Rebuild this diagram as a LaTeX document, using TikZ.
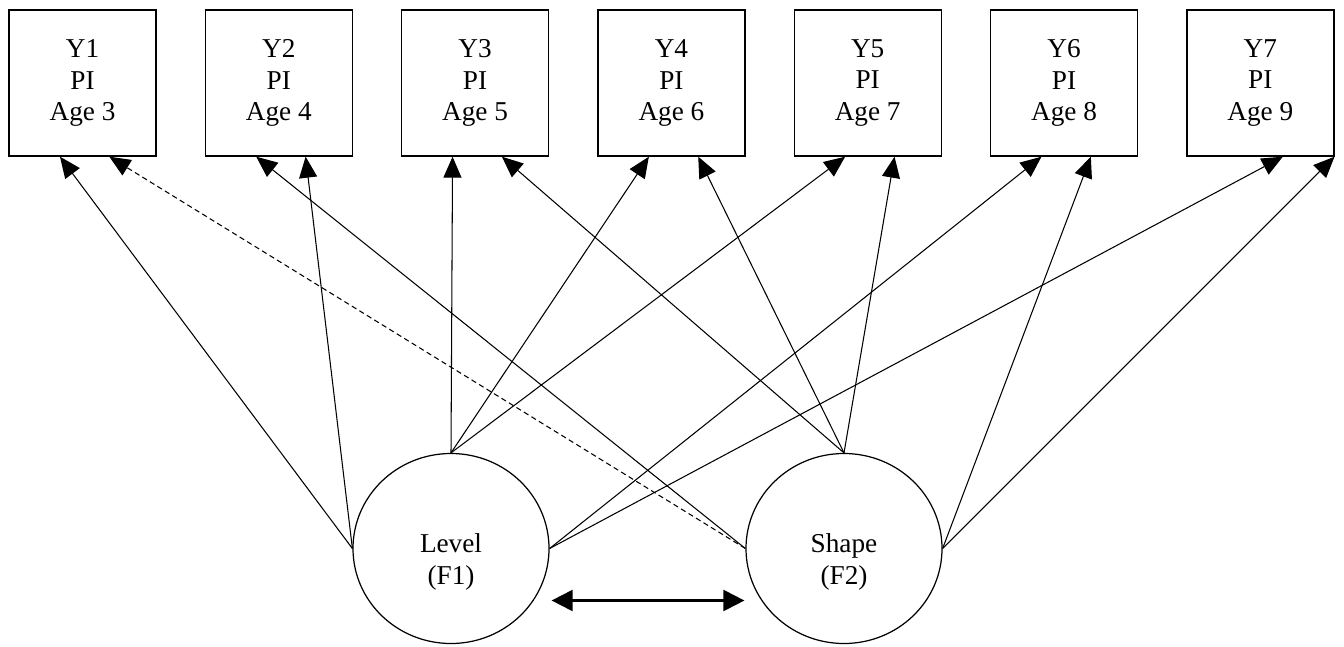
\documentclass[tikz,border=0pt]{standalone}
\usepackage{fontspec}
\setmainfont{Liberation Serif}
\usetikzlibrary{arrows.meta,shapes.geometric}

\begin{document}
\begin{tikzpicture}
            \tikzstyle{obs}=[draw,line width=0.8pt,minimum width=2.94cm,minimum height=2.92cm,inner sep=0pt,align=center,font=\fontsize{15.5}{18}\selectfont]
            \tikzstyle{fac}=[ellipse,draw,line width=0.7pt,minimum width=3.92cm,minimum height=3.8cm,inner sep=0pt]
            \tikzstyle{facname}=[align=center,yshift=-0.27cm,font=\fontsize{15.5}{18}\selectfont]
            \tikzstyle{load}=[-{Triangle[length=0.42cm,width=0.36cm]},line width=0.6pt]

            \useasboundingbox (0,0) rectangle (26.88,12.92);

            %indicators
            \foreach \i in {1,...,7}
            {
                \pgfmathtruncatemacro{\agenum}{\i+2}
                \node[obs] (Y\i) at ({1.65+(\i-1)*3.926},11.26) {Y\i\\PI\\Age \agenum};
            }

            %factors
            \node[fac,label={[facname]center:Level\\(F1)}] (level) at (9.02,1.95) {};
            \node[fac,label={[facname]center:Shape\\(F2)}] (shape) at (16.88,1.95) {};

            %level_loadings
            \draw[load] (level.west) -- (Y1.-107.5);
            \draw[load] (level.west) -- (Y2.-70);
            \foreach \i in {3,4,5}
            {
                \draw[load] (level.north) -- (Y\i.-107.5);
            }
            \draw[load] (level.east) -- (Y6.-107.5);
            \draw[load] (level.east) -- (Y7.-73);

            %shape_loadings
            \draw[load,dash pattern=on 3pt off 2pt] (shape.west) -- (Y1.-70);
            \draw[load] (shape.west) -- (Y2.-107.5);
            \foreach \i in {3,4,5}
            {
                \draw[load] (shape.north) -- (Y\i.-70);
            }
            \draw[load] (shape.east) -- (Y6.-70);
            \draw[load] (shape.east) -- (Y7.south east);

            %covariance
            \draw[{Triangle[length=0.42cm,width=0.42cm]}-{Triangle[length=0.42cm,width=0.42cm]},line width=1.2pt]
                ([xshift=0.04cm,yshift=-1.04cm]level.east) -- ([xshift=-0.02cm,yshift=-1.04cm]shape.west);

       \end{tikzpicture}
\end{document}
